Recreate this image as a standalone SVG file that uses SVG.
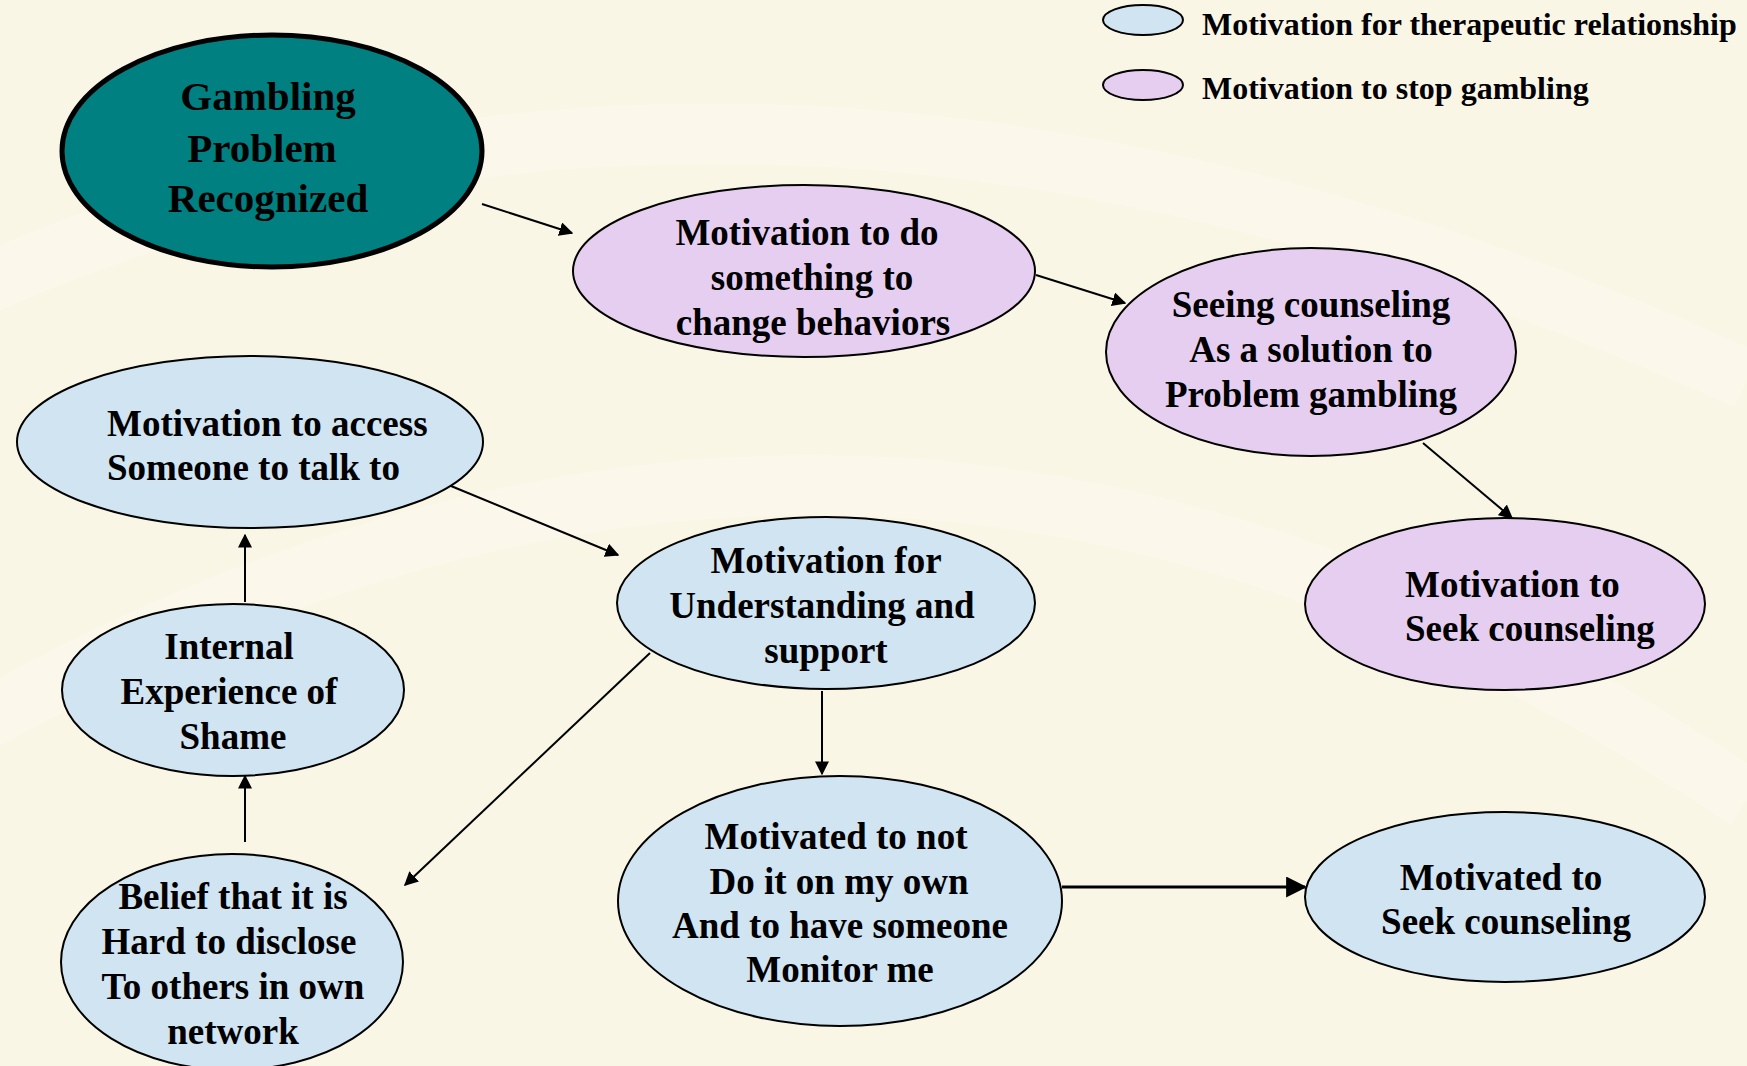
<svg xmlns="http://www.w3.org/2000/svg" width="1747" height="1066" viewBox="0 0 1747 1066">
<defs>
<style>
.bg{fill:#FAF6E6}
.blue{fill:#D1E4F1;stroke:#000;stroke-width:2}
.pink{fill:#E6CEF1;stroke:#000;stroke-width:2}
.teal{fill:#008080;stroke:#000;stroke-width:5}
text{font-family:"Liberation Serif","Times New Roman",serif;font-weight:bold;fill:#000}
.t{font-size:37px;text-anchor:middle}
.ts{font-size:37px;text-anchor:start}
.big{font-size:41px;text-anchor:middle}
.leg{font-size:32px}
.conn line{stroke:#000;stroke-width:2;marker-end:url(#ah)}
</style>
<marker id="ah" viewBox="0 0 10 10" refX="9" refY="5" markerWidth="7" markerHeight="7" markerUnits="strokeWidth" orient="auto">
<path d="M0,0 L10,5 L0,10 z" fill="#000"/>
</marker>
</defs>
<rect class="bg" x="0" y="0" width="1747" height="1066"/>
<g fill="none" stroke="#FCF9EE" stroke-width="60" opacity="0.6">
<path d="M-50,300 C400,90 1000,40 1747,380"/>
<path d="M-50,740 C500,420 1100,360 1747,800"/>
</g>

<g id="legend">
<ellipse class="blue" cx="1143" cy="20" rx="40" ry="15"/>
<text class="leg" x="1202" y="35">Motivation for therapeutic relationship</text>
<ellipse class="pink" cx="1143" cy="85" rx="40" ry="15"/>
<text class="leg" x="1202" y="99">Motivation to stop gambling</text>
</g>

<g id="conns" class="conn">
<line x1="482" y1="204" x2="572" y2="233"/>
<line x1="1036" y1="275" x2="1125" y2="303"/>
<line x1="1423" y1="443" x2="1512" y2="518"/>
<line x1="451" y1="486" x2="618" y2="555"/>
<line x1="245" y1="602" x2="245" y2="535"/>
<line x1="245" y1="842" x2="245" y2="776"/>
<line x1="650" y1="653" x2="405" y2="885"/>
<line x1="822" y1="691" x2="822" y2="774"/>
<line x1="1062" y1="887" x2="1305" y2="887" style="stroke-width:3"/>
</g>

<g id="n-gambling">
<ellipse class="teal" cx="272" cy="151" rx="210" ry="116"/>
<text class="big" x="268" y="110">Gambling</text>
<text class="big" x="262" y="162">Problem</text>
<text class="big" x="268" y="212">Recognized</text>
</g>

<g id="n-dosomething">
<ellipse class="pink" cx="804" cy="271" rx="231" ry="86"/>
<text class="t" x="807" y="245">Motivation to do</text>
<text class="t" x="812" y="290">something to</text>
<text class="t" x="813" y="335">change behaviors</text>
</g>

<g id="n-seeing">
<ellipse class="pink" cx="1311" cy="352" rx="205" ry="104"/>
<text class="t" x="1311" y="317">Seeing counseling</text>
<text class="t" x="1311" y="362">As a solution to</text>
<text class="t" x="1311" y="407">Problem gambling</text>
</g>

<g id="n-seek-pink">
<ellipse class="pink" cx="1505" cy="604" rx="200" ry="86"/>
<text class="ts" x="1405" y="597">Motivation to</text>
<text class="ts" x="1405" y="641">Seek counseling</text>
</g>

<g id="n-access">
<ellipse class="blue" cx="250" cy="442" rx="233" ry="86"/>
<text class="ts" x="107" y="436">Motivation to access</text>
<text class="ts" x="107" y="480">Someone to talk to</text>
</g>

<g id="n-understanding">
<ellipse class="blue" cx="826" cy="603" rx="209" ry="86"/>
<text class="t" x="826" y="573">Motivation for</text>
<text class="t" x="822" y="618">Understanding and</text>
<text class="t" x="826" y="663">support</text>
</g>

<g id="n-shame">
<ellipse class="blue" cx="233" cy="690" rx="171" ry="86"/>
<text class="t" x="229" y="659">Internal</text>
<text class="t" x="229" y="704">Experience of</text>
<text class="t" x="233" y="749">Shame</text>
</g>

<g id="n-belief">
<ellipse class="blue" cx="232" cy="962" rx="171" ry="108"/>
<text class="t" x="233" y="909">Belief that it is</text>
<text class="t" x="229" y="954">Hard to disclose</text>
<text class="t" x="233" y="999">To others in own</text>
<text class="t" x="233" y="1044">network</text>
</g>

<g id="n-notmyown">
<ellipse class="blue" cx="840" cy="901" rx="222" ry="125"/>
<text class="t" x="836" y="849">Motivated to not</text>
<text class="t" x="839" y="894">Do it on my own</text>
<text class="t" x="840" y="938">And to have someone</text>
<text class="t" x="840" y="982">Monitor me</text>
</g>

<g id="n-seek-blue">
<ellipse class="blue" cx="1505" cy="897" rx="200" ry="85"/>
<text class="t" x="1501" y="890">Motivated to</text>
<text class="t" x="1506" y="934">Seek counseling</text>
</g>
</svg>
